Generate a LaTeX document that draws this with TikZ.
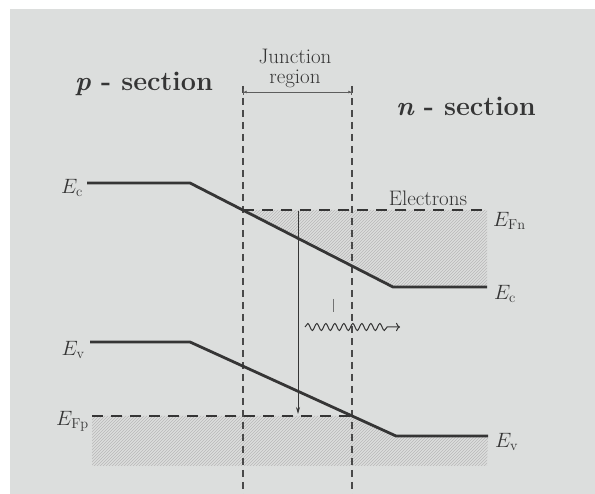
\documentclass[tikz,border=0pt]{standalone}
\usepackage{amsmath}
\usepackage{tikz}
\usetikzlibrary{arrows.meta, positioning, patterns, decorations.pathmorphing}
\definecolor{paper}{HTML}{DCDEDD}
\definecolor{ink}{HTML}{353535}

\begin{document}
\begin{tikzpicture}[x=1pt, y=-1pt,
  band/.style={line width=2.8pt, ink},
  fermi/.style={line width=1.8pt, ink, dash pattern=on 11pt off 8pt},
  edgeline/.style={line width=1.4pt, ink!90, dash pattern=on 7pt off 5pt},
  hatch/.style={pattern=north east lines, pattern color=ink!35},
  lvl/.style={font=\fontsize{21}{22}\selectfont, text=ink, inner sep=1pt},
  title/.style={font=\fontsize{27}{29}\selectfont\bfseries, text=ink},
  note/.style={font=\fontsize{21}{22}\selectfont, text=ink}
]
  \useasboundingbox (0,0) rectangle (595,494);
  \fill[white] (0,0) rectangle (595,494);
  \fill[paper] (10,9) rectangle (595,494);

  % band corners
  \coordinate (cL) at (87,183);
  \coordinate (cA) at (190,183);
  \coordinate (cB) at (393,287);
  \coordinate (cR) at (487,287);
  \coordinate (vL) at (90,342);
  \coordinate (vA) at (190,342);
  \coordinate (vB) at (396,436);
  \coordinate (vR) at (488,436);
  \coordinate (fnL) at (243,210);
  \coordinate (fnR) at (487,210);
  \coordinate (fpL) at (92,416);
  \coordinate (fpR) at (352,416);
  \coordinate (jlT) at (243,86);
  \coordinate (jlB) at (243,494);
  \coordinate (jrT) at (352,86);
  \coordinate (jrB) at (352,494);

  \fill[hatch] (fnL) -- (fnR) -- (cR) -- (cB) -- cycle;
  \fill[hatch] (fpL) -- (fpR) -- (vB) -- (vR) -- (487,466) -- (92,466) -- cycle;

  \draw[edgeline] (jlT) -- (jlB);
  \draw[edgeline] (jrT) -- (jrB);
  \draw[ink!80, line width=0.6pt, {Bar[width=6pt]Latex[length=3pt,width=3pt]}-{Latex[length=3pt,width=3pt]Bar[width=6pt]}] (243,92) -- (352,92);

  \draw[band] (cL) -- (cA) -- (cB) -- (cR);
  \draw[band] (vL) -- (vA) -- (vB) -- (vR);
  \draw[fermi] (fnL) -- (fnR);
  \draw[fermi] (fpL) -- (fpR);

  \coordinate (dropT) at (298,211);
  \coordinate (dropB) at (298,414);
  \draw[ink, line width=0.7pt, -{Stealth[length=7pt,width=4pt]}] (dropT) -- (dropB);

  \coordinate (waveL) at (305,327);
  \coordinate (waveR) at (400,327);
  \draw[ink, line width=1pt, decorate, decoration={snake, amplitude=3.5pt, segment length=9pt, post length=10pt}, -{To[length=4pt]}] (waveL) -- (waveR);
  \draw[ink!70, line width=0.6pt] (333,299) -- (333,312);

  \node[title] (psec) at (144,84) {{\itshape p} - section};
  \node[title] (nsec) at (466,106) {{\itshape n} - section};
  \node[note, align=center, inner sep=0pt] (junc) at (295,68) {Junction\\[-2pt]region};
  \node[note, anchor=base, fill=paper, inner sep=1pt] (elec) at (428,206) {Electrons};

  \node[lvl, anchor=east] (ecl) at (84,188) {$E_{\mathrm{c}}$};
  \node[lvl, anchor=east] (evl) at (86,350) {$E_{\mathrm{v}}$};
  \node[lvl, anchor=east] (efp) at (90,421) {$E_{\mathrm{Fp}}$};
  \node[lvl, anchor=west] (efn) at (492,221) {$E_{\mathrm{Fn}}$};
  \node[lvl, anchor=west] (ecr) at (493,294) {$E_{\mathrm{c}}$};
  \node[lvl, anchor=west] (evr) at (494,442) {$E_{\mathrm{v}}$};
\end{tikzpicture}
\end{document}
